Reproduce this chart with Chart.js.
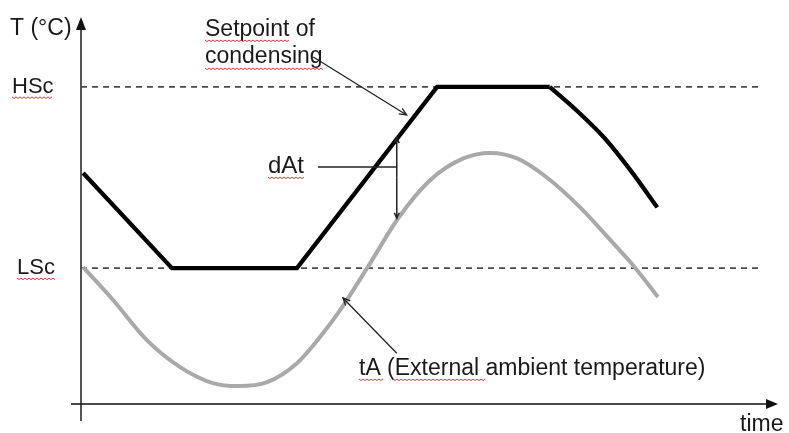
<!DOCTYPE html>
<html>
<head>
<meta charset="utf-8">
<script src="https://cdn.jsdelivr.net/npm/chart.js@4"></script>
<style>
html, body { margin: 0; padding: 0; background: #fff; }
canvas { display: block; }
</style>
</head>
<body>
<canvas id="grafico" width="789" height="433"></canvas>
<script>
// soglie di condensazione
const HSC = 40;
const LSC = 20;

// setpoint di condensazione (linea nera): tratti rettilinei
const setpointX = [0.3, 12.85, 30.5, 50.3, 66.2];
const setpointY = [30.5, 20, 20, 40, 40];
// setpoint: discesa finale curva
const codaX = [66.2, 70, 74, 77.7, 81.4];
const codaY = [40, 37.4, 34.3, 30.7, 26.7];

// temperatura ambiente esterna (linea grigia)
const ambienteX = [0.3, 4.5, 9.3, 14.0, 18.6, 22.2, 26.3, 30.5, 34.2, 36.6, 40.5, 44.8, 49.3, 54.0, 57.8, 61.6, 65.8, 70.5, 75.1, 78.2, 81.5];
const ambienteY = [20.1, 16.5, 12.05, 9.07, 7.31, 6.98, 7.42, 9.51, 12.83, 15.36, 20.1, 25.5, 29.7, 32.1, 32.7, 32.1, 30.0, 26.7, 22.8, 20.1, 16.8];

// estensione delle linee tratteggiate
const soglieX = [0, 96.2];

function punti(xs, ys) {
    let out = [];
    for (let i = 0; i < xs.length; i++) {
        out.push({x: xs[i], y: ys[i]});
    }
    return out;
}

function freccia(c, x1, y1, x2, y2, dim, piena) {
    const a = Math.atan2(y2 - y1, x2 - x1);
    c.beginPath();
    c.moveTo(x1, y1);
    c.lineTo(x2, y2);
    c.stroke();
    c.beginPath();
    c.moveTo(x2 - dim * Math.cos(a - 0.42), y2 - dim * Math.sin(a - 0.42));
    c.lineTo(x2, y2);
    c.lineTo(x2 - dim * Math.cos(a + 0.42), y2 - dim * Math.sin(a + 0.42));
    if (piena) {
        c.closePath();
        c.fill();
    } else {
        c.stroke();
    }
}

function ondina(c, x1, x2, y) {
    c.beginPath();
    c.moveTo(x1, y);
    let k = 0;
    for (let x = x1; x <= x2; x += 2) {
        c.lineTo(x, y + (k % 2 ? 1.6 : 0));
        k++;
    }
    c.stroke();
}

const disegno = {
    id: 'disegno',
    beforeDatasetsDraw(chart) {
        const c = chart.ctx;
        c.save();
        // asse y con freccia
        c.strokeStyle = '#555';
        c.fillStyle = '#111';
        c.lineWidth = 2;
        c.beginPath();
        c.moveTo(81, 421);
        c.lineTo(81, 26);
        c.stroke();
        c.beginPath();
        c.moveTo(81, 17);
        c.lineTo(76, 30);
        c.lineTo(86, 30);
        c.closePath();
        c.fill();
        // asse x con freccia
        c.strokeStyle = '#111';
        c.lineWidth = 1.6;
        c.beginPath();
        c.moveTo(71, 404);
        c.lineTo(768, 404);
        c.stroke();
        c.beginPath();
        c.moveTo(778, 404);
        c.lineTo(766, 399);
        c.lineTo(766, 409);
        c.closePath();
        c.fill();
        c.restore();
    },
    afterDatasetsDraw(chart) {
        const c = chart.ctx;
        const sx = chart.scales.x;
        const sy = chart.scales.y;
        const px = v => sx.getPixelForValue(v);
        const py = v => sy.getPixelForValue(v);
        c.save();

        // testi
        c.fillStyle = '#1a1a1a';
        c.textBaseline = 'alphabetic';
        c.textAlign = 'left';
        c.font = '23px "Liberation Sans", Arial, sans-serif';
        c.fillText('T (°C)', 10, 35);
        c.fillText('Setpoint of', 205, 36);
        c.fillText('condensing', 205, 63);
        c.fillText('tA (External ambient temperature)', 359, 375);
        c.fillText('time', 740, 431);
        c.font = '24px "Liberation Sans", Arial, sans-serif';
        c.fillText('dAt', 268, 173);
        c.font = '22px "Liberation Sans", Arial, sans-serif';
        c.fillText('HSc', 12, py(HSC) + 6);
        c.fillText('LSc', 17, py(LSC) + 6);

        // sottolineature del correttore
        c.strokeStyle = '#e23a3a';
        c.lineWidth = 1;
        ondina(c, 12, 52, py(HSC) + 10);
        ondina(c, 17, 55, py(LSC) + 10);
        ondina(c, 205, 290, 40);
        ondina(c, 205, 323, 68);
        ondina(c, 268, 305, 177);
        ondina(c, 359, 384, 379);
        ondina(c, 393, 486, 379);

        // frecce
        c.strokeStyle = '#222';
        c.fillStyle = '#222';
        c.lineWidth = 1.3;
        freccia(c, px(32.8), py(43.3), px(46.0), py(36.9), 8, false);
        freccia(c, px(44.6), py(10.6), px(37.0), py(16.7), 8, false);

        // dAt: differenza tra setpoint e ambiente
        const xd = px(44.6);
        c.lineWidth = 1.5;
        c.beginPath();
        c.moveTo(318, py(31.15));
        c.lineTo(xd, py(31.15));
        c.stroke();
        freccia(c, xd, py(30), xd, py(34.4), 6, false);
        freccia(c, xd, py(30), xd, py(25.5), 6, false);
        c.restore();
    }
};

new Chart(document.getElementById('grafico'), {
    type: 'line',
    data: {
        datasets: [{
            label: 'Setpoint',
            data: punti(setpointX, setpointY),
            borderColor: '#000000',
            borderWidth: 4.2,
            tension: 0,
            pointRadius: 0,
            clip: false
        }, {
            label: 'Setpoint (discesa)',
            data: punti(codaX, codaY),
            borderColor: '#000000',
            borderWidth: 4.2,
            cubicInterpolationMode: 'monotone',
            pointRadius: 0,
            clip: false
        }, {
            label: 'tA',
            data: punti(ambienteX, ambienteY),
            borderColor: '#a9a9a9',
            borderWidth: 4,
            cubicInterpolationMode: 'monotone',
            pointRadius: 0,
            clip: false
        }, {
            label: 'HSc',
            data: punti(soglieX, [HSC, HSC]),
            borderColor: '#4a4a4a',
            borderWidth: 1.6,
            borderDash: [6, 5],
            pointRadius: 0,
            clip: false
        }, {
            label: 'LSc',
            data: punti(soglieX, [LSC, LSC]),
            borderColor: '#4a4a4a',
            borderWidth: 1.6,
            borderDash: [6, 5],
            pointRadius: 0,
            clip: false
        }]
    },
    options: {
        responsive: false,
        animation: false,
        devicePixelRatio: 1,
        layout: {padding: {left: 81, right: 0, top: 18, bottom: 29}},
        scales: {
            x: {type: 'linear', min: 0, max: 100, display: false},
            y: {type: 'linear', min: 5, max: 47.6, display: false}
        },
        plugins: {
            legend: {display: false},
            tooltip: {enabled: false}
        }
    },
    plugins: [disegno]
});
</script>
</body>
</html>
